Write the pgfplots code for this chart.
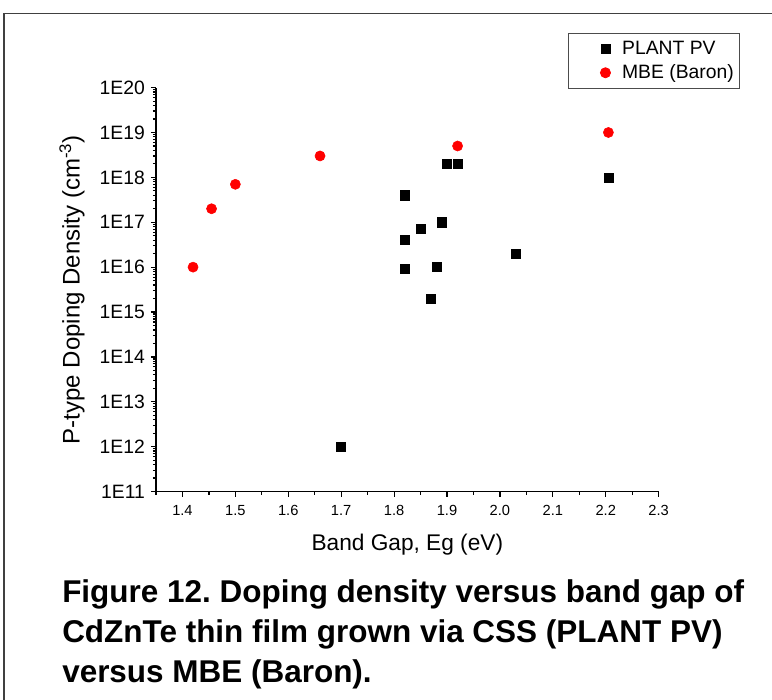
\documentclass[border=0pt]{standalone}
\usepackage{pgfplots}
\pgfplotsset{compat=1.18}
\usepackage{fontspec}
\setmainfont{Liberation Sans}
\frenchspacing

% legend image: one marker, with empty room on both sides of it
\pgfplotsset{midmark legend/.style={legend image code/.code={%
    \path[draw=none, fill=none] (0pt,-1pt) rectangle (36.2pt,1pt);
    \draw[##1] plot coordinates {(25.7pt,0pt)};}}}

\begin{document}
\begin{tikzpicture}
\path[use as bounding box] (0,0) rectangle (579pt,-525pt);
% outer frame of the figure
\draw[black!75, line width=1pt] (3pt,-526pt) -- (3pt,-10pt) -- (580pt,-10pt);

\begin{axis}[
  at={(117pt,-368.7pt)}, anchor=south west,
  scale only axis, width=377pt, height=303pt,
  xmin=1.35, xmax=2.3,
  ymode=log, log basis y=10, ymin=1e11, ymax=1e20,
  axis x line*=bottom, axis y line*=left,
  axis line style={line width=1.1pt},
  tick align=outside,
  every tick/.style={black, line width=0.9pt},
  major tick length=3.8pt, minor tick length=2.4pt,
  xtick={1.4,1.5,1.6,1.7,1.8,1.9,2.0,2.1,2.2,2.3},
  xticklabels={1.4,1.5,1.6,1.7,1.8,1.9,2.0,2.1,2.2,2.3},
  minor xtick={1.35,1.45,1.55,1.65,1.75,1.85,1.95,2.05,2.15,2.25},
  ytick={1e11,1e12,1e13,1e14,1e15,1e16,1e17,1e18,1e19,1e20},
  yticklabels={1E11,1E12,1E13,1E14,1E15,1E16,1E17,1E18,1E19,1E20},
  minor ytick={2e11,3e11,4e11,5e11,6e11,7e11,8e11,9e11,
    2e12,3e12,4e12,5e12,6e12,7e12,8e12,9e12,
    2e13,3e13,4e13,5e13,6e13,7e13,8e13,9e13,
    2e14,3e14,4e14,5e14,6e14,7e14,8e14,9e14,
    2e15,3e15,4e15,5e15,6e15,7e15,8e15,9e15,
    2e16,3e16,4e16,5e16,6e16,7e16,8e16,9e16,
    2e17,3e17,4e17,5e17,6e17,7e17,8e17,9e17,
    2e18,3e18,4e18,5e18,6e18,7e18,8e18,9e18,
    2e19,3e19,4e19,5e19,6e19,7e19,8e19,9e19},
  xticklabel style={font=\fontsize{11}{11}\selectfont, yshift=-3pt},
  yticklabel style={font=\fontsize{14.5}{14.5}\selectfont, xshift=-1pt},
  xlabel={Band Gap, Eg (eV)},
  ylabel={P-type Doping Density (cm\textsuperscript{-3})},
  xlabel style={font=\fontsize{17}{17}\selectfont, at={(axis description cs:0.5,-0.132)}, anchor=center},
  ylabel style={font=\fontsize{18}{18}\selectfont, at={(axis description cs:-0.167,0.5)}, anchor=center},
  legend style={at={(1.161,1.135)}, anchor=north east, draw=black!70, line width=0.6pt,
    font=\fontsize{14.5}{14.5}\selectfont, row sep=2pt, inner xsep=2pt, inner ysep=4pt},
  legend cell align=left,
  clip=false,
]
\addplot[only marks, mark=square*, mark size=3.4pt, black, midmark legend] coordinates {
  (1.70,1e12) (1.82,4e17) (1.82,4e16) (1.82,9e15) (1.85,7e16) (1.87,2e15)
  (1.88,1e16) (1.89,1e17) (1.90,2e18) (1.92,2e18) (2.03,2e16) (2.205,1e18)
};
\addlegendentry{PLANT PV}
\addplot[only marks, mark=*, mark size=3.8pt, red, midmark legend] coordinates {
  (1.42,1e16) (1.455,2e17) (1.50,7e17) (1.66,3e18) (1.92,5e18) (2.205,1e19)
};
\addlegendentry{MBE (Baron)}
\end{axis}

% caption under the chart
\begin{scope}[every node/.style={anchor=base west, inner sep=0pt, font=\fontsize{23.6}{30}\selectfont\bfseries}]
\node at (46.5pt,-451.5pt) {Figure 12. Doping density versus band gap of};
\node at (46.5pt,-481.5pt) {CdZnTe thin film grown via CSS (PLANT PV)};
\node at (46.5pt,-511.5pt) {versus MBE (Baron).};
\end{scope}
\end{tikzpicture}
\end{document}
